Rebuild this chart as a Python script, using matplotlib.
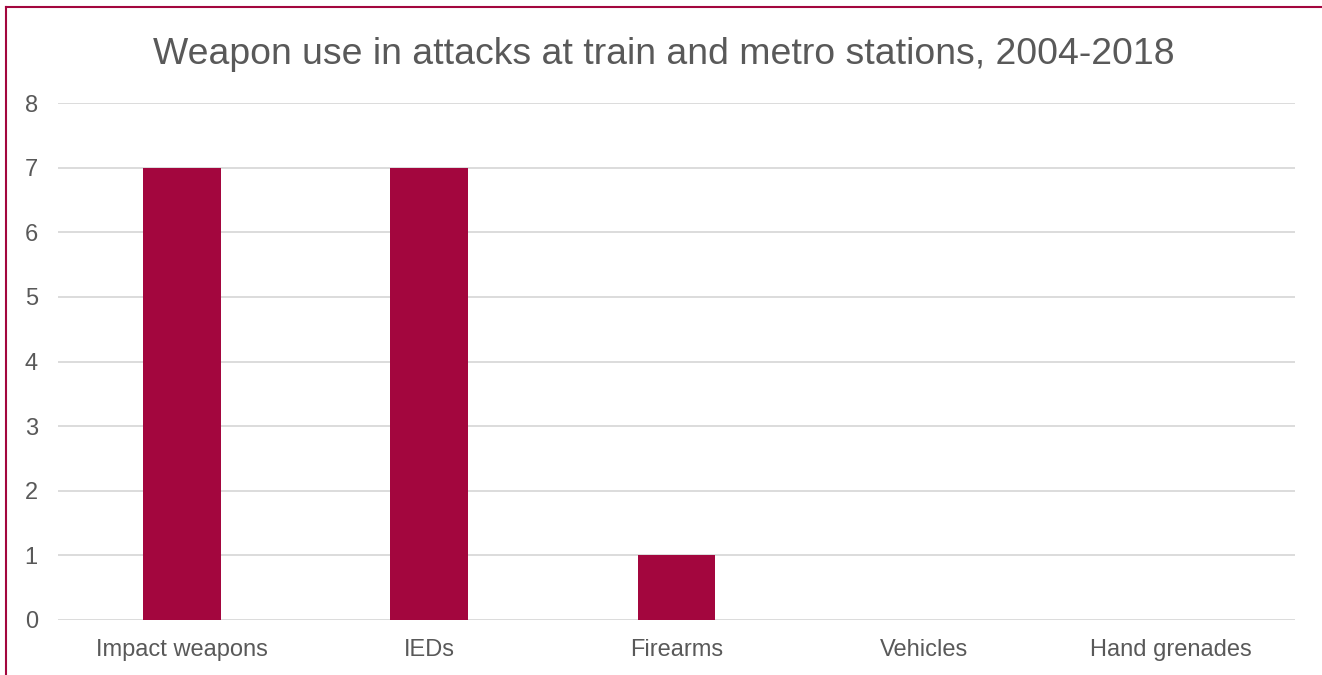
import matplotlib.pyplot as plt
from matplotlib.lines import Line2D

categories = ['Impact weapons', 'IEDs', 'Firearms', 'Vehicles', 'Hand grenades']
counts = [7, 7, 1, 0, 0]

W, H = 1322, 675
plt.rcParams['font.family'] = ['Liberation Sans', 'DejaVu Sans']

fig = plt.figure(figsize=(W / 100, H / 100), dpi=100)
ax = fig.add_axes([58 / W, 1 - 620 / H, (1295 - 58) / W, (620 - 103) / H])

bar_color = '#A3063E'
text_color = '#595959'
grid_color = '#D9D9D9'

x = range(len(categories))
ax.bar(x, counts, width=0.315, color=bar_color, zorder=3)

ax.set_xlim(-0.5, len(categories) - 0.5)
ax.set_ylim(0, 8)
ax.set_yticks(range(0, 9))
ax.set_xticks(list(x))
ax.set_xticklabels(categories)
ax.tick_params(axis='both', length=0, labelsize=17, colors=text_color)
ax.tick_params(axis='x', pad=14)
for lbl in ax.get_yticklabels():
    lbl.set_horizontalalignment('left')
ax.yaxis.set_tick_params(pad=24)
ax.grid(axis='y', color=grid_color, linewidth=1.3, zorder=0)
for s in ax.spines.values():
    s.set_visible(False)

fig.text(664 / W, 1 - 54 / H, 'Weapon use in attacks at train and metro stations, 2004-2018',
         ha='center', va='center', fontsize=26.9, color=text_color)

# frame lines along the top and left edges
fig.add_artist(Line2D([6 / W, 1], [1 - 7 / H, 1 - 7 / H], color=bar_color, linewidth=1.5))
fig.add_artist(Line2D([6 / W, 6 / W], [0, 1 - 7 / H], color=bar_color, linewidth=1.5))

fig.savefig('out.png', dpi=100)
